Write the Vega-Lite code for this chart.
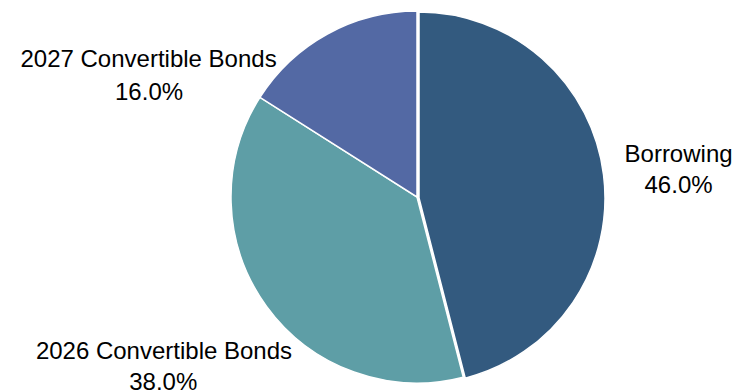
{
  "$schema": "https://vega.github.io/schema/vega-lite/v6.json",
  "width": 372,
  "height": 372,
  "autosize": "none",
  "padding": {"left": 231, "top": 11, "right": 136, "bottom": 7},
  "background": "white",
  "config": {"view": {"stroke": null}, "text": {"font": "Liberation Sans"}},
  "data": {
    "values": [
      {"category": "Borrowing", "share": 0.46, "rank": 1},
      {"category": "2026 Convertible Bonds", "share": 0.38, "rank": 2},
      {"category": "2027 Convertible Bonds", "share": 0.16, "rank": 3}
    ]
  },
  "encoding": {
    "theta": {"field": "share", "type": "quantitative", "stack": true},
    "order": {"field": "rank", "type": "quantitative"},
    "detail": {"field": "category", "type": "nominal"}
  },
  "layer": [
    {
      "mark": {"type": "arc", "stroke": "white", "strokeWidth": 1.5},
      "encoding": {
        "color": {"field": "category", "type": "nominal", "legend": null,
          "scale": {"domain": ["Borrowing", "2026 Convertible Bonds", "2027 Convertible Bonds"], "range": ["#335A7F", "#5E9EA6", "#5369A4"]}},
        "opacity": {"condition": {"test": "datum.category === 'Borrowing'", "value": 0}, "value": 1}
      }
    },
    {
      "mark": {"type": "arc", "stroke": "white", "strokeWidth": 1.5, "xOffset": 2, "yOffset": 1},
      "encoding": {
        "color": {"field": "category", "type": "nominal", "legend": null,
          "scale": {"domain": ["Borrowing", "2026 Convertible Bonds", "2027 Convertible Bonds"], "range": ["#335A7F", "#5E9EA6", "#5369A4"]}},
        "opacity": {"condition": {"test": "datum.category === 'Borrowing'", "value": 1}, "value": 0}
      }
    },
    {
      "mark": {"type": "text", "radius": 260, "fontSize": 24, "align": "center", "baseline": "alphabetic", "color": "black", "dx": 3.6, "dy": -2.1},
      "encoding": {"text": {"condition": {"test": "datum.category === 'Borrowing'", "field": "category", "type": "nominal"}, "value": ""}}
    },
    {
      "mark": {"type": "text", "radius": 260, "fontSize": 24, "align": "center", "baseline": "alphabetic", "color": "black", "dx": 3.6, "dy": 28.9},
      "encoding": {"text": {"condition": {"test": "datum.category === 'Borrowing'", "field": "share", "type": "quantitative", "format": ".1%"}, "value": ""}}
    },
    {
      "mark": {"type": "text", "radius": 260, "fontSize": 24, "align": "center", "baseline": "alphabetic", "color": "black", "dx": -42.7, "dy": 9.4},
      "encoding": {"text": {"condition": {"test": "datum.category === '2026 Convertible Bonds'", "field": "category", "type": "nominal"}, "value": ""}}
    },
    {
      "mark": {"type": "text", "radius": 260, "fontSize": 24, "align": "center", "baseline": "alphabetic", "color": "black", "dx": -43.4, "dy": 40.4},
      "encoding": {"text": {"condition": {"test": "datum.category === '2026 Convertible Bonds'", "field": "share", "type": "quantitative", "format": ".1%"}, "value": ""}}
    },
    {
      "mark": {"type": "text", "radius": 260, "fontSize": 24, "align": "center", "baseline": "alphabetic", "color": "black", "dx": -143.2, "dy": 97.8},
      "encoding": {"text": {"condition": {"test": "datum.category === '2027 Convertible Bonds'", "field": "category", "type": "nominal"}, "value": ""}}
    },
    {
      "mark": {"type": "text", "radius": 260, "fontSize": 24, "align": "center", "baseline": "alphabetic", "color": "black", "dx": -142.7, "dy": 130.8},
      "encoding": {"text": {"condition": {"test": "datum.category === '2027 Convertible Bonds'", "field": "share", "type": "quantitative", "format": ".1%"}, "value": ""}}
    }
  ]
}
